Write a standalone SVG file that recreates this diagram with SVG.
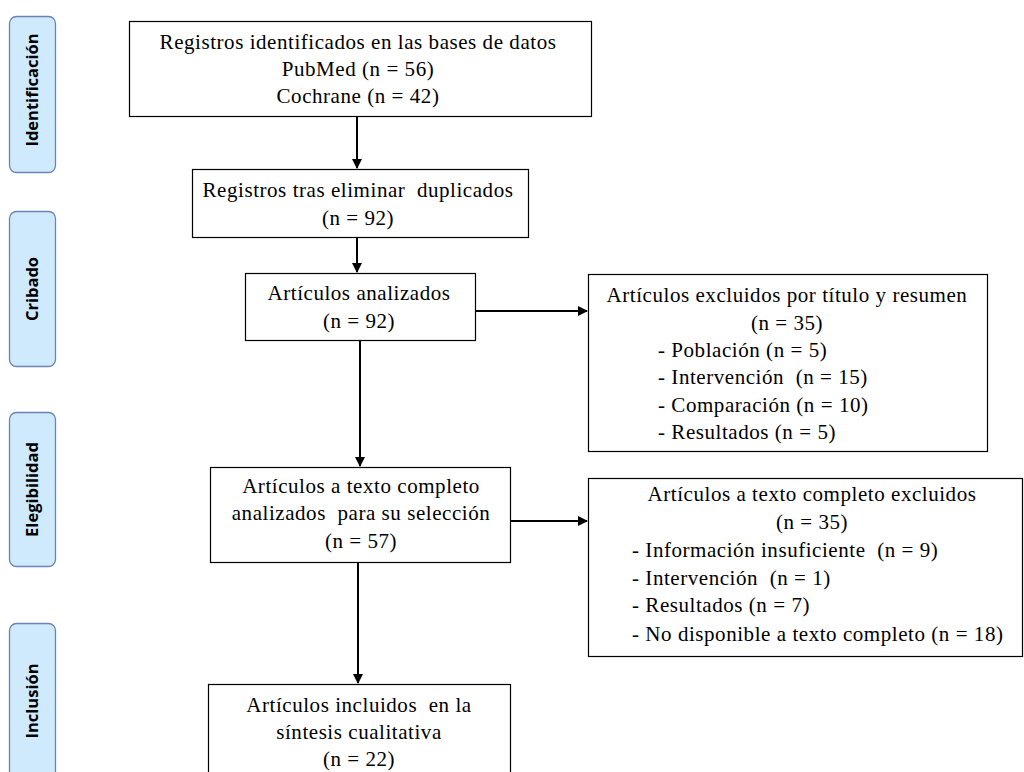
<svg xmlns="http://www.w3.org/2000/svg" width="1024" height="772" viewBox="0 0 1024 772">
<style>
.phase{fill:#cfe9fd;stroke:#6a84b4;stroke-width:1.3}
.pt{font-family:"Open Sans","Noto Sans",sans-serif;font-weight:700;font-size:16.5px;fill:#000;text-anchor:middle}
.box{fill:#fff;stroke:#000;stroke-width:1.2}
.t{font-family:"Liberation Serif","Times New Roman",serif;font-size:21px;letter-spacing:0.55px;fill:#000;white-space:pre}
.c{text-anchor:middle}
.conn{stroke:#000;stroke-width:2;fill:none;marker-end:url(#ah)}
</style>
<defs>
<marker id="ah" viewBox="0 0 10 10" refX="9" refY="5" markerWidth="5" markerHeight="5" orient="auto" markerUnits="strokeWidth">
<path d="M0,0 L10,5 L0,10 z" fill="#000"/>
</marker>
</defs>
<rect width="1024" height="772" fill="#fff"/>
<g id="phase-identificacion"><rect class="phase" x="9.5" y="16.5" width="46" height="156" rx="7"/><text class="pt" transform="translate(38,90) rotate(-90)">Identificación</text></g>
<g id="phase-cribado"><rect class="phase" x="9.5" y="211.5" width="46" height="155" rx="7"/><text class="pt" transform="translate(38,289) rotate(-90)">Cribado</text></g>
<g id="phase-elegibilidad"><rect class="phase" x="9.5" y="412.5" width="46" height="154" rx="7"/><text class="pt" transform="translate(38,489.5) rotate(-90)">Elegibilidad</text></g>
<g id="phase-inclusion"><rect class="phase" x="9.5" y="623.5" width="46" height="160" rx="7"/><text class="pt" transform="translate(38,701) rotate(-90)">Inclusión</text></g>

<g id="connectors">
<line class="conn" x1="357" y1="116" x2="357" y2="168"/>
<line class="conn" x1="357" y1="237" x2="357" y2="272"/>
<line class="conn" x1="475" y1="311" x2="587" y2="311"/>
<line class="conn" x1="360" y1="340" x2="360" y2="466"/>
<line class="conn" x1="510" y1="521" x2="587" y2="521"/>
<line class="conn" x1="358" y1="563" x2="358" y2="683"/>
</g>

<g id="n1"><rect class="box" x="129.5" y="21.5" width="462" height="95"/>
<text class="t c" x="358" y="49">Registros identificados en las bases de datos</text>
<text class="t c" x="358" y="76">PubMed (n = 56)</text>
<text class="t c" x="358" y="103">Cochrane (n = 42)</text></g>

<g id="n2"><rect class="box" x="192.5" y="169.5" width="336" height="68"/>
<text class="t c" x="358" y="197">Registros tras eliminar  duplicados</text>
<text class="t c" x="358" y="225">(n = 92)</text></g>

<g id="n3"><rect class="box" x="245.5" y="273.5" width="230" height="67"/>
<text class="t c" x="359" y="300">Artículos analizados</text>
<text class="t c" x="359" y="328">(n = 92)</text></g>

<g id="n4"><rect class="box" x="588.5" y="274.5" width="399" height="177"/>
<text class="t c" x="787" y="302">Artículos excluidos por título y resumen</text>
<text class="t c" x="787" y="330">(n = 35)</text>
<text class="t" x="658" y="357">- Población (n = 5)</text>
<text class="t" x="658" y="384">- Intervención  (n = 15)</text>
<text class="t" x="658" y="412">- Comparación (n = 10)</text>
<text class="t" x="658" y="439">- Resultados (n = 5)</text></g>

<g id="n5"><rect class="box" x="210.5" y="467.5" width="300" height="95"/>
<text class="t c" x="361" y="493">Artículos a texto completo</text>
<text class="t c" x="361" y="520">analizados  para su selección</text>
<text class="t c" x="361" y="548">(n = 57)</text></g>

<g id="n6"><rect class="box" x="588.5" y="478.5" width="434" height="178"/>
<text class="t c" x="812" y="501">Artículos a texto completo excluidos</text>
<text class="t c" x="812" y="529">(n = 35)</text>
<text class="t" x="632" y="557">- Información insuficiente  (n = 9)</text>
<text class="t" x="632" y="585">- Intervención  (n = 1)</text>
<text class="t" x="632" y="612">- Resultados (n = 7)</text>
<text class="t" x="632" y="641">- No disponible a texto completo (n = 18)</text></g>

<g id="n7"><rect class="box" x="208.5" y="684.5" width="302" height="100"/>
<text class="t c" x="359" y="712">Artículos incluidos  en la</text>
<text class="t c" x="359" y="739">síntesis cualitativa</text>
<text class="t c" x="359" y="766">(n = 22)</text></g>
</svg>
